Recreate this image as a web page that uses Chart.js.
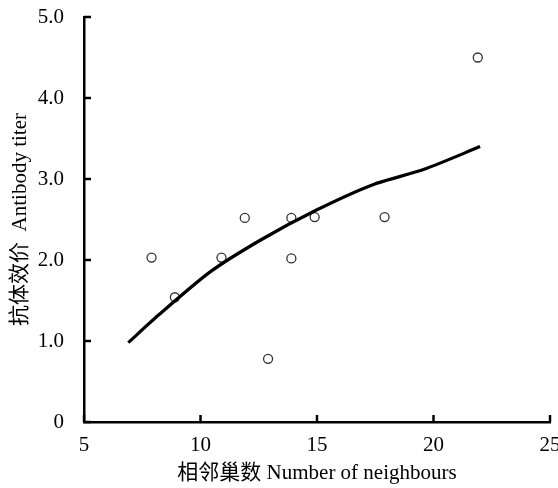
<!DOCTYPE html>
<html lang="zh">
<head>
<meta charset="UTF-8">
<title>Antibody titer vs number of neighbours</title>
<script src="https://cdn.jsdelivr.net/npm/chart.js@4.4.1/dist/chart.umd.min.js"></script>
<style>
  html, body { margin: 0; padding: 0; background: #fff; }
  #wrap { width: 558px; height: 488px; }
</style>
</head>
<body>
<div id="wrap"><canvas id="chart"></canvas></div>
<script>
// observed points
const obsX = [7.9, 8.9, 10.9, 11.9, 12.9, 13.9, 13.9, 14.9, 17.9, 21.9];
const obsY = [2.03, 1.54, 2.03, 2.52, 0.78, 2.52, 2.02, 2.53, 2.53, 4.50];

// fitted curve
const fitX = [6.9, 8.2, 10.4, 12.6, 15.0, 17.4, 19.6, 22.0];
const fitY = [0.98, 1.32, 1.85, 2.25, 2.62, 2.93, 3.12, 3.40];

const xTicks = [5, 10, 15, 20, 25];
const yTicks = [0, 1, 2, 3, 4, 5];

const SERIF = '"Liberation Serif", "Noto Sans CJK SC", serif';

// ticks on the inside of the axes
const innerTicks = {
  id: 'innerTicks',
  afterDraw(chart) {
    const { ctx, chartArea, scales } = chart;
    const len = 7;
    ctx.save();
    ctx.strokeStyle = '#000';
    ctx.lineWidth = 2.5;
    xTicks.forEach(v => {
      const px = scales.x.getPixelForValue(v);
      ctx.beginPath();
      ctx.moveTo(px, chartArea.bottom);
      ctx.lineTo(px, chartArea.bottom - len);
      ctx.stroke();
    });
    yTicks.forEach(v => {
      const py = scales.y.getPixelForValue(v);
      ctx.beginPath();
      ctx.moveTo(chartArea.left, py);
      ctx.lineTo(chartArea.left + len, py);
      ctx.stroke();
    });
    ctx.restore();
  }
};

new Chart(document.getElementById('chart'), {
  type: 'scatter',
  data: {
    datasets: [
      {
        label: 'fit',
        data: fitX.map((x, i) => ({ x, y: fitY[i] })),
        showLine: true,
        borderColor: '#000',
        borderWidth: 3.2,
        pointRadius: 0,
        tension: 0.25,
        order: 0
      },
      {
        label: 'observed',
        data: obsX.map((x, i) => ({ x, y: obsY[i] })),
        pointRadius: 4.5,
        pointBorderWidth: 1.3,
        pointBorderColor: '#333',
        pointBackgroundColor: 'rgba(255,255,255,0)',
        order: 1
      }
    ]
  },
  options: {
    responsive: true,
    maintainAspectRatio: false,
    animation: false,
    layout: { padding: { top: 17, right: 8, left: 0, bottom: 0 } },
    plugins: { legend: { display: false }, tooltip: { enabled: false } },
    scales: {
      x: {
        type: 'linear',
        min: 5, max: 25,
        afterBuildTicks: s => { s.ticks = xTicks.map(v => ({ value: v })); },
        afterFit: s => { s.height = 66; s.paddingLeft = 0; s.paddingRight = 0; },
        grid: { display: false },
        border: { display: true, color: '#000', width: 2.5 },
        ticks: { padding: 3, color: '#000', font: { family: SERIF, size: 21 } },
        title: {
          display: true,
          text: '相邻巢数 Number of neighbours',
          color: '#000',
          font: { family: SERIF, size: 21 },
          padding: { top: 2, bottom: 2 }
        }
      },
      y: {
        type: 'linear',
        min: 0, max: 5,
        afterBuildTicks: s => { s.ticks = yTicks.map(v => ({ value: v })); },
        afterFit: s => { s.width = 84; s.paddingTop = 0; s.paddingBottom = 0; },
        grid: { display: false },
        border: { display: true, color: '#000', width: 2.5 },
        ticks: {
          padding: 12, color: '#000', font: { family: SERIF, size: 21 },
          callback: v => v === 0 ? '0' : v.toFixed(1)
        },
        title: {
          display: true,
          text: '抗体效价  Antibody titer',
          color: '#000',
          font: { family: SERIF, size: 21 },
          padding: { top: 8, bottom: 8 }
        }
      }
    }
  },
  plugins: [innerTicks]
});
</script>
</body>
</html>
